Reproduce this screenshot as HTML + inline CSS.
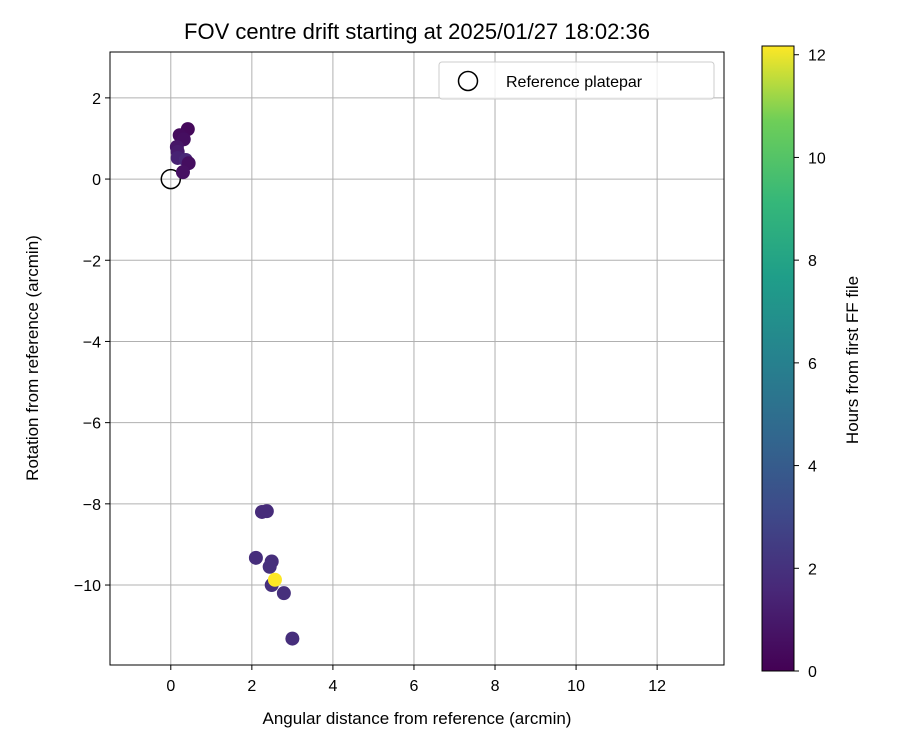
<!DOCTYPE html>
<html><head><meta charset="utf-8"><style>body{margin:0;background:#fff}svg{font-family:"Liberation Sans","DejaVu Sans",sans-serif}</style></head>
<body>
<svg id="c" width="900" height="750" xmlns="http://www.w3.org/2000/svg">
<defs><linearGradient id="vir" x1="0" y1="1" x2="0" y2="0">
<stop offset="0" stop-color="#440154"/><stop offset="0.13" stop-color="#482878"/><stop offset="0.25" stop-color="#3e4989"/><stop offset="0.38" stop-color="#31688e"/><stop offset="0.5" stop-color="#26828e"/><stop offset="0.63" stop-color="#1f9e89"/><stop offset="0.75" stop-color="#35b779"/><stop offset="0.88" stop-color="#6ece58"/><stop offset="1" stop-color="#fde725"/></linearGradient></defs>
</svg>
<script>
const xs=[0.42,0.22,0.32,0.15,0.17,0.17,0.37,0.44,0.3,2.25,2.37,2.1,2.49,2.44,2.49,2.79,3.0,2.57];
const ys=[1.23,1.08,0.98,0.79,0.67,0.52,0.47,0.39,0.17,-8.2,-8.18,-9.33,-9.42,-9.55,-10.0,-10.2,-11.32,-9.87];
const hrs=[0.3,0.4,0.5,0.8,1.0,1.3,1.5,0.5,0.6,1.7,1.7,1.8,1.8,1.9,1.9,1.9,1.8,12.17];
const xTicks=[0,2,4,6,8,10,12];
const yTicks=[2,0,-2,-4,-6,-8,-10];
const cTicks=[0,2,4,6,8,10,12];
const L=110,R=724,T=52,B=665,x0=-1.5,x1=13.65,y0=-11.97,y1=3.13;
const X=v=>L+(v-x0)/(x1-x0)*(R-L), Y=v=>B-(v-y0)/(y1-y0)*(B-T);
const cT=46,cB=671,cmax=12.17,CY=v=>cB-v/cmax*(cB-cT);
const vir=[[68,1,84],[72,40,120],[62,73,137],[49,104,142],[38,130,142],[31,158,137],[53,183,121],[110,206,88],[253,231,37]];
function col(h){let t=Math.min(1,h/cmax)*8,i=Math.min(7,Math.floor(t)),f=t-i;const a=vir[i],b=vir[i+1];return `rgb(${a.map((v,k)=>Math.round(v+(b[k]-v)*f)).join(',')})`;}
const s=document.getElementById('c');const NS='http://www.w3.org/2000/svg';
function el(t,a,txt){const e=document.createElementNS(NS,t);for(const k in a)e.setAttribute(k,a[k]);if(txt!==undefined)e.textContent=txt;s.appendChild(e);return e;}
xTicks.forEach(v=>{let g=el('line',{x1:X(v),x2:X(v),y1:T,y2:B,stroke:'#b0b0b0','stroke-width':1});
el('line',{x1:X(v),x2:X(v),y1:B,y2:B+5,stroke:'#000'});
let t=el('text',{x:X(v),y:B+26,'font-size':16,'text-anchor':'middle'},String(v));});
yTicks.forEach(v=>{let g=el('line',{x1:L,x2:R,y1:Y(v),y2:Y(v),stroke:'#b0b0b0','stroke-width':1});
el('line',{x1:L-5,x2:L,y1:Y(v),y2:Y(v),stroke:'#000'});
let t=el('text',{x:L-9,y:Y(v)+6,'font-size':16,'text-anchor':'end'},v<0?'\u2212'+(-v):String(v));});
let ref=el('circle',{cx:X(0),cy:Y(0),r:9.5,fill:'none',stroke:'#000','stroke-width':1.5});
xs.forEach((v,i)=>{let c=el('circle',{cx:X(v),cy:Y(ys[i]),r:7,fill:col(hrs[i])});});
let fr=el('rect',{x:L,y:T,width:R-L,height:B-T,fill:'none',stroke:'#000','stroke-width':1});
let lg=el('rect',{x:439,y:62,width:275,height:37,fill:'#fff','fill-opacity':0.8,stroke:'#ccc',rx:3});
el('circle',{cx:468,cy:81,r:9.5,fill:'none',stroke:'#000','stroke-width':1.5});
let lt=el('text',{x:506,y:87,'font-size':16},'Reference platepar');
let ti=el('text',{x:417,y:39,'font-size':22,'text-anchor':'middle'},'FOV centre drift starting at 2025/01/27 18:02:36');
let xt=el('text',{x:417,y:724,'font-size':17,'text-anchor':'middle'},'Angular distance from reference (arcmin)');
let yt=el('text',{x:38,y:358,'font-size':17,'text-anchor':'middle',transform:'rotate(-90 38 358)'},'Rotation from reference (arcmin)');
let cb=el('rect',{x:762,y:cT,width:32,height:cB-cT,fill:'url(#vir)',stroke:'#000'});
cTicks.forEach(v=>{el('line',{x1:794,x2:799,y1:CY(v),y2:CY(v),stroke:'#000'});
let t=el('text',{x:808,y:CY(v)+6,'font-size':16},String(v));});
let ct=el('text',{x:858,y:360,'font-size':17,'text-anchor':'middle',transform:'rotate(-90 858 360)'},'Hours from first FF file');
</script>
</body></html>
